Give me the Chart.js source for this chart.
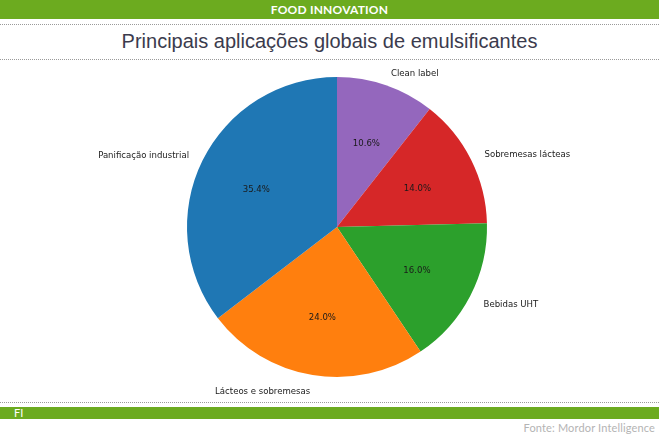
<!DOCTYPE html>
<html>
<head>
<meta charset="utf-8">
<script src="https://cdn.jsdelivr.net/npm/chart.js@4"></script>
<style>
  html, body { margin: 0; padding: 0; background: #fff; }
  body { width: 659px; height: 436px; position: relative; overflow: hidden; font-family: "Liberation Sans", Arial, sans-serif; }
  .topbar { position: absolute; left: 0; top: 0; width: 659px; height: 19px; background: #6cab1f; color: #fff;
    font-family: "Lato", sans-serif; font-weight: bold; font-size: 12px; line-height: 19px; text-align: center; letter-spacing: 0.2px; }
  .dots { position: absolute; left: 0; width: 659px; border-top: 1px dotted #9a9a9a; }
  .title { position: absolute; left: 0; top: 30px; width: 659px; text-align: center; font-size: 20px; color: #3b3b4d; }
  .botbar { position: absolute; left: 0; top: 407px; width: 659px; height: 12px; background: #6cab1f; color: #fff;
    font-family: "Lato", sans-serif; font-size: 11px; line-height: 12px; }
  .botbar span { padding-left: 14px; }
  .source { position: absolute; right: 4px; top: 421px; font-family: "Lato", sans-serif; font-size: 11px; letter-spacing: 0.15px; color: #b4b4b4; }
  #wrap { position: absolute; left: 0; top: 62px; width: 659px; height: 338px; }
</style>
</head>
<body>
<div class="topbar">FOOD INNOVATION</div>
<div class="dots" style="top:24px"></div>
<div class="title">Principais aplicações globais de emulsificantes</div>
<div class="dots" style="top:59px"></div>
<div id="wrap"><canvas id="pie"></canvas></div>
<div class="dots" style="top:402px"></div>
<div class="botbar"><span>FI</span></div>
<div class="source">Fonte: Mordor Intelligence</div>
<script>
// Slices in clockwise order starting from 12 o'clock
var categories = ['Clean label', 'Sobremesas lácteas', 'Bebidas UHT', 'Lácteos e sobremesas', 'Panificação industrial'];
var shares = [10.6, 14.0, 16.0, 24.0, 35.4];
var sliceColors = ['#9467bd', '#d62728', '#2ca02c', '#ff7f0e', '#1f77b4'];

// Outside labels + percentages, placed like matplotlib's autopct
var pieLabels = {
  id: 'pieLabels',
  afterDatasetsDraw: function(chart) {
    var ctx = chart.ctx;
    var meta = chart.getDatasetMeta(0);
    ctx.save();
    ctx.font = '9.5px "DejaVu Sans Condensed", "DejaVu Sans"';
    ctx.fillStyle = '#1a1a1a';
    ctx.textBaseline = 'middle';
    meta.data.forEach(function(arc, i) {
      var mid = (arc.startAngle + arc.endAngle) / 2;
      var r = arc.outerRadius;
      var cx = Math.cos(mid), cy = Math.sin(mid);
      ctx.textAlign = cx >= 0 ? 'left' : 'right';
      ctx.fillText(categories[i], arc.x + cx * r * 1.1, arc.y + cy * r * 1.1 + 2);
      ctx.textAlign = 'center';
      ctx.fillText(shares[i].toFixed(1) + '%', arc.x + cx * r * 0.6, arc.y + cy * r * 0.6 + 2);
    });
    ctx.restore();
  }
};

new Chart(document.getElementById('pie'), {
  type: 'pie',
  data: {
    labels: categories,
    datasets: [{
      data: shares,
      backgroundColor: sliceColors,
      borderWidth: 0
    }]
  },
  options: {
    responsive: true,
    maintainAspectRatio: false,
    animation: false,
    layout: { padding: { left: 187, right: 172, top: 15, bottom: 23 } },
    plugins: {
      legend: { display: false },
      tooltip: { enabled: false }
    }
  },
  plugins: [pieLabels]
});
</script>
</body>
</html>
